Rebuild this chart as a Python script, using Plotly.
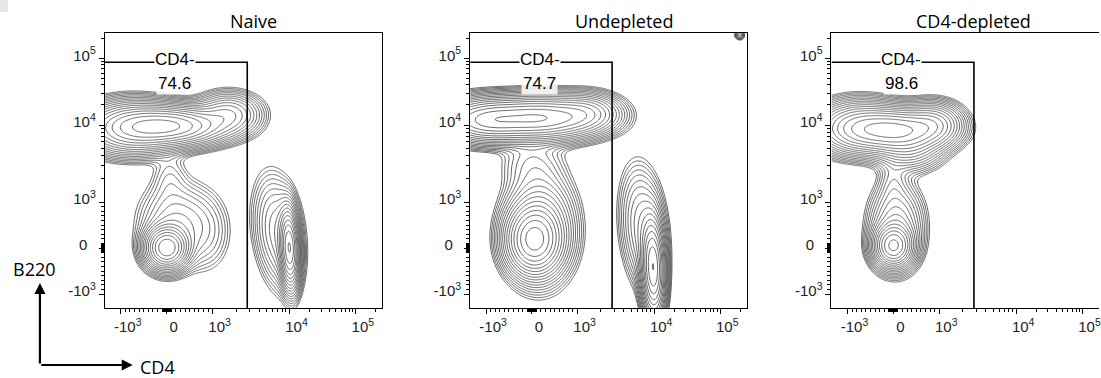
import numpy as np
import plotly.graph_objects as go

W, H = 1101, 378

# ---------------- data ----------------
PANEL_TITLES = ["Naive", "Undepleted", "CD4-depleted"]
GATE_NAME = "CD4-"
GATE_PCT = ["74.6", "74.7", "98.6"]
GATE_X_MAX = 2800      # CD4 upper bound of the gate (raw units)
GATE_Y_MAX = 88000     # B220 upper bound of the gate (raw units)

MAJOR_TICKS = [-1000, 0, 1000, 10000, 100000]
X_LABELS = ["-10<sup>3</sup>", "0", "10<sup>3</sup>", "10<sup>4</sup>", "10<sup>5</sup>"]
Y_LABELS = ["-10<sup>3</sup>", "0\u00a0\u00a0", "10<sup>3</sup>", "10<sup>4</sup>", "10<sup>5</sup>"]

# populations (channel units: centre x, centre y, spread x, spread y, weight, correlation)
NAIVE_CX = [5, -35, 62, 0, 10, 40, 3, 123, 112]
NAIVE_CY = [122, 120, 134, 0, 25, 15, 70, 0, 15]
NAIVE_SX = [28, 25, 17, 11, 20, 14, 10, 5, 13]
NAIVE_SY = [10, 13, 11, 11, 22, 22, 15, 20, 30]
NAIVE_W = [1.0, 0.7, 0.25, 1.0, 0.12, 0.04, 0.03, 1.0, 0.15]
NAIVE_R = [0, 0, 0, 0, 0, 0, 0, -0.15, -0.25]

UNDEP_CX = [10, -45, 55, 2, 8, 0, 122, 112, 209]
UNDEP_CY = [130, 128, 135, 8, 20, 85, -20, 20, 213]
UNDEP_SX = [30, 25, 18, 14, 18, 18, 6, 12, 2.5]
UNDEP_SY = [11, 11, 10, 17, 28, 15, 25, 32, 2.5]
UNDEP_W = [1.0, 0.8, 0.3, 1.0, 0.3, 0.04, 1.0, 0.15, 0.1]
UNDEP_R = [0, 0, 0, 0, 0, 0, -0.1, -0.2, 0]

DEP_CX = [3, -35, 40, 15, 0, 3, 0]
DEP_CY = [118, 120, 124, 100, 2, 22, 65]
DEP_SX = [25, 22, 15, 18, 10, 14, 8]
DEP_SY = [11, 13, 11, 12, 11, 22, 14]
DEP_W = [1.0, 0.6, 0.35, 0.2, 1.0, 0.2, 0.04]
DEP_R = [0, 0, 0, 0, 0, 0, 0]

POPS = [
    (NAIVE_CX, NAIVE_CY, NAIVE_SX, NAIVE_SY, NAIVE_W, NAIVE_R),
    (UNDEP_CX, UNDEP_CY, UNDEP_SX, UNDEP_SY, UNDEP_W, UNDEP_R),
    (DEP_CX, DEP_CY, DEP_SX, DEP_SY, DEP_W, DEP_R),
]

# ---------------- scale (biexponential display) ----------------
def to_ch(v):
    v = np.asarray(v, dtype=float)
    a = np.abs(v)
    lin = a / 1000.0 * 46.0
    lg = np.interp(np.log10(np.maximum(a, 1000.0)), [3, 4, 5, 6], [46.5, 123.0, 189.5, 256.0])
    return np.sign(v) * np.where(a <= 1000, lin, lg)

minor_raw = []
for dec in [10, 100, 1000, 10000]:
    for m in range(1, 10):
        minor_raw.append(m * dec)
minor_raw += [100000, 200000]
minor_raw = minor_raw + [-x for x in minor_raw if x <= 1000]
MINOR_CH = [float(c) for c in to_ch(minor_raw)]
MAJOR_CH = [float(c) for c in to_ch(MAJOR_TICKS)]

X_RANGE = [-62, 216]
Y_RANGE = [-60, 215]

gx = np.arange(X_RANGE[0], X_RANGE[1] + 1, 1.0)
gy = np.arange(Y_RANGE[0], Y_RANGE[1] + 1, 1.0)
GX, GY = np.meshgrid(gx, gy)


def density(cx, cy, sx, sy, w, r):
    d = np.zeros_like(GX)
    for a, b, s1, s2, ww, rr in zip(cx, cy, sx, sy, w, r):
        dx = (GX - a) / s1
        dy = (GY - b) / s2
        q = (dx * dx - 2 * rr * dx * dy + dy * dy) / (1 - rr * rr)
        d += ww * np.exp(-q / 2)
    return d

# ---------------- layout geometry ----------------
PX_X = [(105, 383), (471, 748), (833, 1101)]
PX_Y = (33, 308)
TITLE_PX = [(254, 21), (625, 21), (975, 21)]

fig = go.Figure()
LINE_GRAY = "#505050"
TICK_FONT = dict(family="Liberation Sans, Arial", size=15, color="#222")
GATE_FONT = dict(family="Liberation Sans, Arial", size=17, color="black")
LABEL_FONT = dict(family="Open Sans", size=18, color="black")

for i in range(3):
    n = "" if i == 0 else str(i + 1)
    D = density(*POPS[i])
    Z = np.log10(np.maximum(D / D.max(), 1e-6))
    fig.add_trace(go.Contour(
        x=gx, y=gy, z=Z, xaxis="x" + n, yaxis="y" + n,
        contours=dict(start=-2.0, end=-0.05, size=0.12, coloring="lines"),
        colorscale=[[0, LINE_GRAY], [1, LINE_GRAY]], showscale=False,
        line=dict(width=0.85, smoothing=1.0), hoverinfo="skip",
    ))
    gxm = float(to_ch(GATE_X_MAX))
    gym = float(to_ch(GATE_Y_MAX))
    fig.add_trace(go.Scatter(
        x=[X_RANGE[0], gxm, gxm], y=[gym, gym, Y_RANGE[0]],
        xaxis="x" + n, yaxis="y" + n, mode="lines",
        line=dict(color="black", width=1.6), hoverinfo="skip", showlegend=False,
    ))
    xr = list(X_RANGE)
    if i == 2:
        xr = [X_RANGE[0], X_RANGE[0] + (PX_X[2][1] - PX_X[2][0])]
    common = dict(
        showline=True, linecolor="black", linewidth=1,
        ticks="outside", ticklen=5, tickwidth=1.3, tickcolor="black",
        tickmode="array", tickvals=MAJOR_CH,
        minor=dict(tickmode="array", tickvals=MINOR_CH, ticklen=3, tickwidth=1,
                   tickcolor="black", ticks="outside", showgrid=False),
        showgrid=False, zeroline=False, tickfont=TICK_FONT, ticklabeloverflow="allow",
    )
    fig.layout["xaxis" + n] = dict(
        common, domain=[PX_X[i][0] / W, PX_X[i][1] / W], range=xr, ticktext=X_LABELS,
        anchor="y" + n, mirror=True, ticklabelshift=7,
    )
    fig.layout["yaxis" + n] = dict(
        common, domain=[1 - PX_Y[1] / H, 1 - PX_Y[0] / H], range=Y_RANGE, ticktext=Y_LABELS,
        anchor="x" + n, mirror=(i < 2), ticklabelshift=-3,
    )
    # gate labels
    fig.add_annotation(x=8, y=189, xref="x" + n, yref="y" + n, text=GATE_NAME,
                       showarrow=False, bgcolor="white", borderpad=0, font=GATE_FONT)
    fig.add_annotation(x=8, y=165, xref="x" + n, yref="y" + n, text=GATE_PCT[i],
                       showarrow=False, bgcolor="rgba(255,255,255,0.85)", borderpad=1,
                       font=GATE_FONT)
    fig.add_annotation(x=TITLE_PX[i][0] / W, y=1 - TITLE_PX[i][1] / H, xref="paper", yref="paper",
                       text=PANEL_TITLES[i], showarrow=False, xanchor="center", yanchor="middle",
                       font=LABEL_FONT)

# axis legend arrows
fig.add_annotation(x=40 / W, y=1 - 283 / H, xref="paper", yref="paper", ax=0, ay=82,
                   axref="pixel", ayref="pixel", showarrow=True, arrowhead=2, arrowsize=1,
                   arrowwidth=2.2, arrowcolor="black", text="")
fig.add_annotation(x=133 / W, y=1 - 365 / H, xref="paper", yref="paper", ax=-93, ay=0,
                   axref="pixel", ayref="pixel", showarrow=True, arrowhead=2, arrowsize=1,
                   arrowwidth=2.2, arrowcolor="black", text="")
fig.add_annotation(x=35 / W, y=1 - 269 / H, xref="paper", yref="paper", text="B220",
                   showarrow=False, xanchor="center", yanchor="middle", font=LABEL_FONT)
fig.add_annotation(x=138 / W, y=1 - 367 / H, xref="paper", yref="paper", text="CD4",
                   showarrow=False, xanchor="left", yanchor="middle", font=LABEL_FONT)

fig.add_shape(type="rect", xref="paper", yref="paper", x0=0, x1=8 / W, y0=1 - 12 / H, y1=1,
              fillcolor="#e6e6e6", line=dict(width=0), layer="below")

fig.update_layout(
    width=W, height=H, margin=dict(l=0, r=0, t=0, b=0),
    paper_bgcolor="white", plot_bgcolor="white", showlegend=False,
)

fig.write_html("out.html", config={"displayModeBar": False},
               post_script="document.body.style.margin='0px';document.body.style.overflow='hidden';")
